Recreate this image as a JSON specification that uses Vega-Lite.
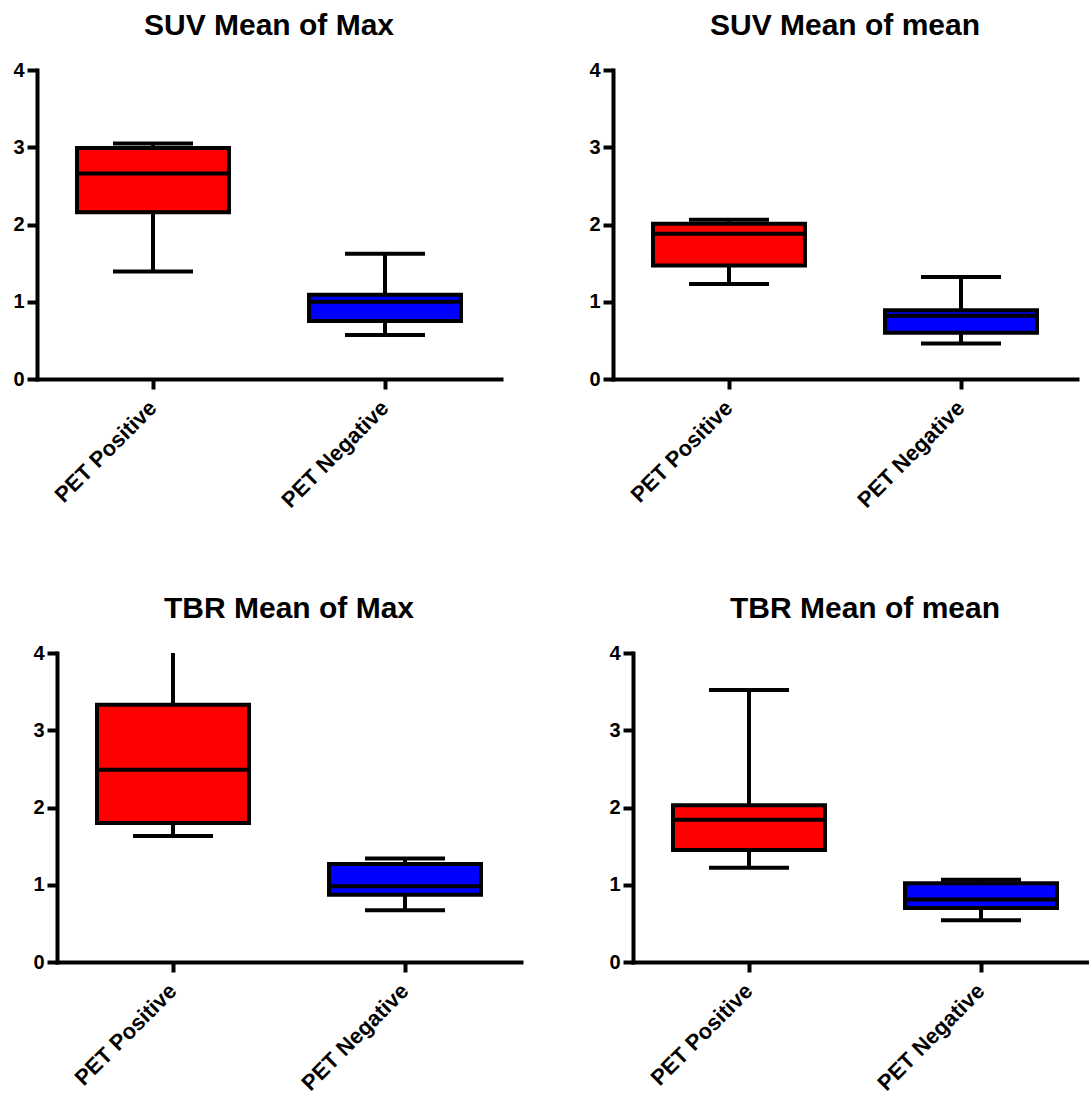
{
  "$schema": "https://vega.github.io/schema/vega-lite/v6.json",
  "padding": {"left": 0, "top": 11, "right": 0, "bottom": 0},
  "background": "white",
  "datasets": {
    "boxes": [
      {"panel": "SUV Mean of Max", "group": "PET Positive", "min": 1.39, "q1": 2.16, "median": 2.66, "q3": 2.99, "max": 3.05},
      {"panel": "SUV Mean of Max", "group": "PET Negative", "min": 0.57, "q1": 0.75, "median": 1.0, "q3": 1.09, "max": 1.62},
      {"panel": "SUV Mean of mean", "group": "PET Positive", "min": 1.23, "q1": 1.47, "median": 1.88, "q3": 2.01, "max": 2.06},
      {"panel": "SUV Mean of mean", "group": "PET Negative", "min": 0.46, "q1": 0.6, "median": 0.82, "q3": 0.89, "max": 1.32},
      {"panel": "TBR Mean of Max", "group": "PET Positive", "min": 1.63, "q1": 1.8, "median": 2.49, "q3": 3.33, "max": 4.3},
      {"panel": "TBR Mean of Max", "group": "PET Negative", "min": 0.67, "q1": 0.87, "median": 0.98, "q3": 1.27, "max": 1.34},
      {"panel": "TBR Mean of mean", "group": "PET Positive", "min": 1.22, "q1": 1.45, "median": 1.84, "q3": 2.03, "max": 3.52},
      {"panel": "TBR Mean of mean", "group": "PET Negative", "min": 0.54, "q1": 0.7, "median": 0.81, "q3": 1.02, "max": 1.065}
    ]
  },
  "data": {"name": "boxes"},
  "spacing": 82,
  "vconcat": [
    {
      "spacing": 75,
      "hconcat": [
        {
          "title": "SUV Mean of Max",
          "width": 464, "height": 309,
          "transform": [{"filter": "datum.panel === 'SUV Mean of Max'"}],
          "encoding": {"x": {"field": "group", "type": "nominal", "sort": ["PET Positive", "PET Negative"], "title": null, "scale": {"paddingInner": 0, "paddingOuter": 0}}},
          "layer": [
            {"mark": {"type": "rule", "color": "black", "strokeWidth": 4, "clip": true},
             "encoding": {"y": {"field": "min", "type": "quantitative", "title": null, "scale": {"domain": [0, 4]}, "axis": {"values": [0, 1, 2, 3, 4], "minExtent": 37, "maxExtent": 37}}, "y2": {"field": "max"}}},
            {"mark": {"type": "bar", "width": {"band": 0.655}, "stroke": "black", "strokeWidth": 4, "opacity": 1},
             "encoding": {"y": {"field": "q1", "type": "quantitative", "title": null, "scale": {"domain": [0, 4]}, "axis": {"values": [0, 1, 2, 3, 4], "minExtent": 37, "maxExtent": 37}}, "y2": {"field": "q3"},
                          "color": {"field": "group", "type": "nominal", "scale": {"domain": ["PET Positive", "PET Negative"], "range": ["#FF0000", "#0000FF"]}, "legend": null}}},
            {"mark": {"type": "tick", "color": "black", "size": 152, "thickness": 4, "opacity": 1},
             "encoding": {"y": {"field": "median", "type": "quantitative", "title": null, "scale": {"domain": [0, 4]}, "axis": {"values": [0, 1, 2, 3, 4], "minExtent": 37, "maxExtent": 37}}}},
            {"mark": {"type": "tick", "color": "black", "size": 80, "thickness": 4, "opacity": 1, "clip": true},
             "encoding": {"y": {"field": "min", "type": "quantitative", "title": null, "scale": {"domain": [0, 4]}, "axis": {"values": [0, 1, 2, 3, 4], "minExtent": 37, "maxExtent": 37}}}},
            {"mark": {"type": "tick", "color": "black", "size": 80, "thickness": 4, "opacity": 1, "clip": true},
             "encoding": {"y": {"field": "max", "type": "quantitative", "title": null, "scale": {"domain": [0, 4]}, "axis": {"values": [0, 1, 2, 3, 4], "minExtent": 37, "maxExtent": 37}}}}
          ]
        },
        {
          "title": "SUV Mean of mean",
          "width": 464, "height": 309,
          "transform": [{"filter": "datum.panel === 'SUV Mean of mean'"}],
          "encoding": {"x": {"field": "group", "type": "nominal", "sort": ["PET Positive", "PET Negative"], "title": null, "scale": {"paddingInner": 0, "paddingOuter": 0}}},
          "layer": [
            {"mark": {"type": "rule", "color": "black", "strokeWidth": 4, "clip": true},
             "encoding": {"y": {"field": "min", "type": "quantitative", "title": null, "scale": {"domain": [0, 4]}, "axis": {"values": [0, 1, 2, 3, 4], "minExtent": 37, "maxExtent": 37}}, "y2": {"field": "max"}}},
            {"mark": {"type": "bar", "width": {"band": 0.655}, "stroke": "black", "strokeWidth": 4, "opacity": 1},
             "encoding": {"y": {"field": "q1", "type": "quantitative", "title": null, "scale": {"domain": [0, 4]}, "axis": {"values": [0, 1, 2, 3, 4], "minExtent": 37, "maxExtent": 37}}, "y2": {"field": "q3"},
                          "color": {"field": "group", "type": "nominal", "scale": {"domain": ["PET Positive", "PET Negative"], "range": ["#FF0000", "#0000FF"]}, "legend": null}}},
            {"mark": {"type": "tick", "color": "black", "size": 152, "thickness": 4, "opacity": 1},
             "encoding": {"y": {"field": "median", "type": "quantitative", "title": null, "scale": {"domain": [0, 4]}, "axis": {"values": [0, 1, 2, 3, 4], "minExtent": 37, "maxExtent": 37}}}},
            {"mark": {"type": "tick", "color": "black", "size": 80, "thickness": 4, "opacity": 1, "clip": true},
             "encoding": {"y": {"field": "min", "type": "quantitative", "title": null, "scale": {"domain": [0, 4]}, "axis": {"values": [0, 1, 2, 3, 4], "minExtent": 37, "maxExtent": 37}}}},
            {"mark": {"type": "tick", "color": "black", "size": 80, "thickness": 4, "opacity": 1, "clip": true},
             "encoding": {"y": {"field": "max", "type": "quantitative", "title": null, "scale": {"domain": [0, 4]}, "axis": {"values": [0, 1, 2, 3, 4], "minExtent": 37, "maxExtent": 37}}}}
          ]
        }
      ]
    },
    {
      "spacing": 75,
      "hconcat": [
        {
          "title": {"text": "TBR Mean of Max", "dx": 10},
          "width": 484, "height": 309,
          "transform": [{"filter": "datum.panel === 'TBR Mean of Max'"}],
          "encoding": {"x": {"field": "group", "type": "nominal", "sort": ["PET Positive", "PET Negative"], "title": null, "scale": {"paddingInner": 0, "paddingOuter": 0, "range": [20, 484]}}},
          "layer": [
            {"mark": {"type": "rule", "color": "black", "strokeWidth": 4, "clip": true},
             "encoding": {"y": {"field": "min", "type": "quantitative", "title": null, "scale": {"domain": [0, 4]}, "axis": {"values": [0, 1, 2, 3, 4], "offset": -20}}, "y2": {"field": "max"}}},
            {"mark": {"type": "bar", "width": {"band": 0.655}, "stroke": "black", "strokeWidth": 4, "opacity": 1},
             "encoding": {"y": {"field": "q1", "type": "quantitative", "title": null, "scale": {"domain": [0, 4]}, "axis": {"values": [0, 1, 2, 3, 4], "offset": -20}}, "y2": {"field": "q3"},
                          "color": {"field": "group", "type": "nominal", "scale": {"domain": ["PET Positive", "PET Negative"], "range": ["#FF0000", "#0000FF"]}, "legend": null}}},
            {"mark": {"type": "tick", "color": "black", "size": 152, "thickness": 4, "opacity": 1},
             "encoding": {"y": {"field": "median", "type": "quantitative", "title": null, "scale": {"domain": [0, 4]}, "axis": {"values": [0, 1, 2, 3, 4], "offset": -20}}}},
            {"mark": {"type": "tick", "color": "black", "size": 80, "thickness": 4, "opacity": 1, "clip": true},
             "encoding": {"y": {"field": "min", "type": "quantitative", "title": null, "scale": {"domain": [0, 4]}, "axis": {"values": [0, 1, 2, 3, 4], "offset": -20}}}},
            {"mark": {"type": "tick", "color": "black", "size": 80, "thickness": 4, "opacity": 1, "clip": true},
             "encoding": {"y": {"field": "max", "type": "quantitative", "title": null, "scale": {"domain": [0, 4]}, "axis": {"values": [0, 1, 2, 3, 4], "offset": -20}}}}
          ]
        },
        {
          "title": "TBR Mean of mean",
          "width": 464, "height": 309,
          "transform": [{"filter": "datum.panel === 'TBR Mean of mean'"}],
          "encoding": {"x": {"field": "group", "type": "nominal", "sort": ["PET Positive", "PET Negative"], "title": null, "scale": {"paddingInner": 0, "paddingOuter": 0}}},
          "layer": [
            {"mark": {"type": "rule", "color": "black", "strokeWidth": 4, "clip": true},
             "encoding": {"y": {"field": "min", "type": "quantitative", "title": null, "scale": {"domain": [0, 4]}, "axis": {"values": [0, 1, 2, 3, 4], "minExtent": 37, "maxExtent": 37}}, "y2": {"field": "max"}}},
            {"mark": {"type": "bar", "width": {"band": 0.655}, "stroke": "black", "strokeWidth": 4, "opacity": 1},
             "encoding": {"y": {"field": "q1", "type": "quantitative", "title": null, "scale": {"domain": [0, 4]}, "axis": {"values": [0, 1, 2, 3, 4], "minExtent": 37, "maxExtent": 37}}, "y2": {"field": "q3"},
                          "color": {"field": "group", "type": "nominal", "scale": {"domain": ["PET Positive", "PET Negative"], "range": ["#FF0000", "#0000FF"]}, "legend": null}}},
            {"mark": {"type": "tick", "color": "black", "size": 152, "thickness": 4, "opacity": 1},
             "encoding": {"y": {"field": "median", "type": "quantitative", "title": null, "scale": {"domain": [0, 4]}, "axis": {"values": [0, 1, 2, 3, 4], "minExtent": 37, "maxExtent": 37}}}},
            {"mark": {"type": "tick", "color": "black", "size": 80, "thickness": 4, "opacity": 1, "clip": true},
             "encoding": {"y": {"field": "min", "type": "quantitative", "title": null, "scale": {"domain": [0, 4]}, "axis": {"values": [0, 1, 2, 3, 4], "minExtent": 37, "maxExtent": 37}}}},
            {"mark": {"type": "tick", "color": "black", "size": 80, "thickness": 4, "opacity": 1, "clip": true},
             "encoding": {"y": {"field": "max", "type": "quantitative", "title": null, "scale": {"domain": [0, 4]}, "axis": {"values": [0, 1, 2, 3, 4], "minExtent": 37, "maxExtent": 37}}}}
          ]
        }
      ]
    }
  ],
  "config": {
    "font": "Liberation Sans",
    "view": {"stroke": null},
    "title": {"font": "Liberation Sans", "fontSize": 30, "fontWeight": "bold", "color": "black", "anchor": "middle", "offset": 19},
    "axis": {"domainColor": "black", "domainWidth": 4, "domainCap": "square", "tickColor": "black", "tickWidth": 4, "tickSize": 10, "labelColor": "black", "labelFont": "Liberation Sans", "labelFontWeight": "bold", "grid": false},
    "axisY": {"labelFontSize": 20, "labelPadding": 3},
    "axisX": {"labelFontSize": 22, "labelAngle": -45, "labelAlign": "right", "labelBaseline": "middle", "labelPadding": 15}
  }
}
